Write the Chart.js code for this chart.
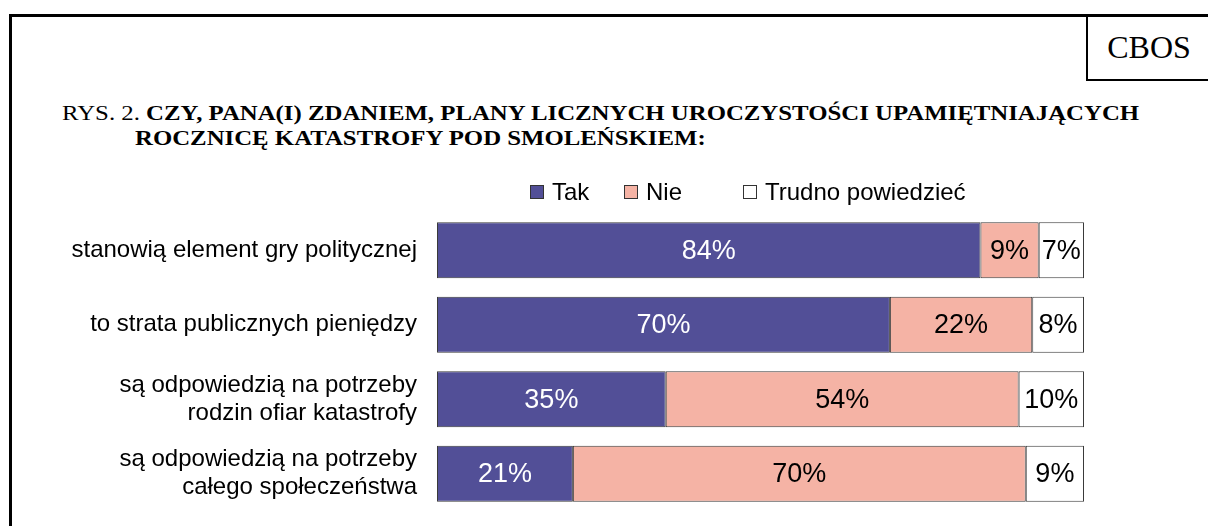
<!DOCTYPE html>
<html>
<head>
<meta charset="utf-8">
<script src="https://cdn.jsdelivr.net/npm/chart.js@4.4.1/dist/chart.umd.min.js"></script>
<style>
  body { margin: 0; background: #fff; }
  #page { position: relative; width: 1208px; height: 526px; overflow: hidden; background: #fff; }
  .frameTop { position: absolute; left: 9px; top: 14px; width: 1199px; height: 3px; background: #000; }
  .frameLeft { position: absolute; left: 9px; top: 14px; width: 3px; height: 512px; background: #000; }
  .cbos { position: absolute; left: 1086px; top: 15px; width: 122px; height: 64px; border-left: 2px solid #000; border-bottom: 2px solid #000;
          font-family: "Liberation Serif", "Times New Roman", serif; font-size: 32px; display: flex; align-items: center; justify-content: center; }
  .title { position: absolute; font-family: "Liberation Serif", "Times New Roman", serif; font-size: 20px; line-height: 20px; white-space: nowrap; color: #000;
           transform-origin: 0 0; transform: scaleX(1.24); }
  .title b { font-weight: bold; }
  #wrap { position: absolute; left: 0; top: 170px; width: 1208px; height: 356px; }
</style>
</head>
<body>
<div id="page">
  <div class="frameTop"></div>
  <div class="frameLeft"></div>
  <div class="cbos">CBOS</div>
  <div class="title" style="left:62px; top:103px;">RYS. 2. <b>CZY, PANA(I) ZDANIEM, PLANY LICZNYCH UROCZYSTOŚCI UPAMIĘTNIAJĄCYCH</b></div>
  <div class="title" style="left:135px; top:128px;"><b>ROCZNICĘ KATASTROFY POD SMOLEŃSKIEM:</b></div>
  <div id="wrap"><canvas id="chart"></canvas></div>
</div>
<script>
// categories (multi-line labels as arrays)
const categories = [
  "stanowią element gry politycznej",
  "to strata publicznych pieniędzy",
  ["są odpowiedzią na potrzeby", "rodzin ofiar katastrofy"],
  ["są odpowiedzią na potrzeby", "całego społeczeństwa"]
];
const seriesNames = ["Tak", "Nie", "Trudno powiedzieć"];
const tak = [84, 70, 35, 21];
const nie = [9, 22, 54, 70];
const trudno = [7, 8, 10, 9];

const colors = ["#524f97", "#f5b3a5", "#ffffff"];
const labelColors = ["#ffffff", "#000000", "#000000"];

const series = [tak, nie, trudno];
// 100% stacked: every row is scaled to fill the full width
const rowTotals = categories.map((c, j) => series.reduce((s, arr) => s + arr[j], 0));

// legend drawn on top of the plot, boxes + text
const boxLegend = {
  id: "boxLegend",
  afterDraw(chart) {
    const ctx = chart.ctx;
    const starts = [530, 624, 743];
    const y = 22;
    ctx.save();
    ctx.font = "24px Arial, 'Liberation Sans', sans-serif";
    ctx.textBaseline = "middle";
    chart.data.datasets.forEach((ds, i) => {
      ctx.fillStyle = ds.backgroundColor;
      ctx.fillRect(starts[i], y - 7, 14, 14);
      ctx.strokeStyle = "#333";
      ctx.lineWidth = 1;
      ctx.strokeRect(starts[i] + 0.5, y - 6.5, 13, 13);
      ctx.fillStyle = "#000";
      ctx.fillText(ds.label, starts[i] + 22, y + 1);
    });
    ctx.restore();
  }
};

// percentage labels inside the segments (original values)
const segLabels = {
  id: "segLabels",
  afterDatasetsDraw(chart) {
    const ctx = chart.ctx;
    ctx.save();
    ctx.font = "27px Arial, 'Liberation Sans', sans-serif";
    ctx.textAlign = "center";
    ctx.textBaseline = "middle";
    chart.data.datasets.forEach((ds, i) => {
      chart.getDatasetMeta(i).data.forEach((bar, j) => {
        const cx = (bar.x + bar.base) / 2;
        ctx.fillStyle = labelColors[i];
        ctx.fillText(series[i][j] + "%", cx, bar.y + 1);
      });
    });
    ctx.restore();
  }
};

new Chart(document.getElementById("chart"), {
  type: "bar",
  data: {
    labels: categories,
    datasets: series.map((vals, i) => ({
      label: seriesNames[i],
      data: vals.map((v, j) => v / rowTotals[j] * 100),
      backgroundColor: colors[i],
      borderColor: "#3a3a3a",
      borderWidth: 1,
      borderSkipped: false,
      barPercentage: 0.75,
      categoryPercentage: 1
    }))
  },
  options: {
    indexAxis: "y",
    responsive: true,
    maintainAspectRatio: false,
    animation: false,
    layout: { padding: { left: 0, right: 124, top: 43, bottom: 15 } },
    plugins: { legend: { display: false }, tooltip: { enabled: false } },
    scales: {
      x: { stacked: true, min: 0, max: 100, display: false },
      y: {
        stacked: true,
        grid: { display: false, drawTicks: false },
        border: { display: false },
        ticks: {
          color: "#000",
          padding: 20,
          font: { family: "Arial, 'Liberation Sans', sans-serif", size: 24, lineHeight: 1.17 }
        },
        afterFit(scale) {
          scale.width = 437;
          scale.paddingTop = 0;
          scale.paddingBottom = 0;
        }
      }
    }
  },
  plugins: [boxLegend, segLabels]
});
</script>
</body>
</html>
